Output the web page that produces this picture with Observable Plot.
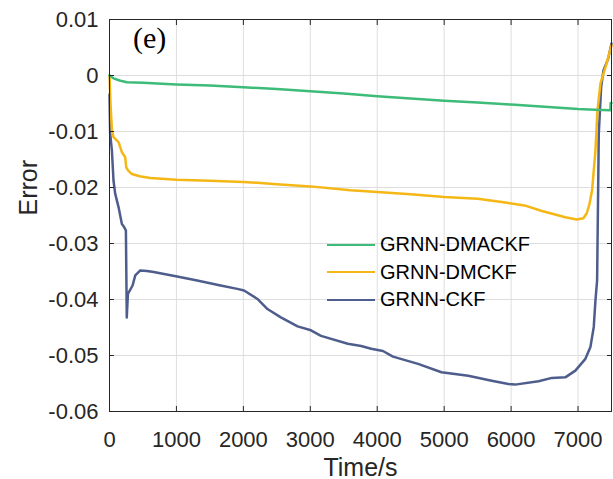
<!DOCTYPE html>
<html>
<head>
<meta charset="utf-8">
<script src="https://cdn.jsdelivr.net/npm/d3@7"></script>
<script src="https://cdn.jsdelivr.net/npm/@observablehq/plot@0.6"></script>
<style>
  html, body { margin: 0; padding: 0; background: #fff; }
  #wrap { position: relative; width: 613px; height: 479px; font-family: "Liberation Sans", Arial, sans-serif; }
  #tag { position: absolute; left: 133px; top: 23px; font-family: "Liberation Serif", "Times New Roman", serif; font-size: 30px; color: #000; line-height: 1; }
  #legend { position: absolute; left: 327px; top: 231px; font-size: 20px; color: #000; }
  .row { display: flex; align-items: center; height: 27.5px; }
  .sw { width: 48px; height: 0; border-top: 2.5px solid; margin-right: 5px; }
</style>
</head>
<body>
<div id="wrap"><div id="tag">(e)</div><div id="legend"></div></div>
<script>
const seriesNames = ["GRNN-DMACKF", "GRNN-DMCKF", "GRNN-CKF"];
const seriesColors = ["#3dbb78", "#f5b715", "#4f5d8c"];

const xTicks = [0, 1000, 2000, 3000, 4000, 5000, 6000, 7000];
const yTicks = [0.01, 0, -0.01, -0.02, -0.03, -0.04, -0.05, -0.06];

const dmackfT = [0, 60, 150, 260, 500, 1000, 1500, 2000, 2500, 3000, 3500, 4000, 4500, 5000, 5500, 6000, 6500, 7000, 7250, 7484, 7487, 7500];
const dmackfV = [0, -0.0005, -0.0009, -0.0012, -0.0013, -0.0016, -0.0018, -0.0021, -0.0024, -0.0028, -0.0032, -0.0037, -0.0041, -0.0045, -0.0048, -0.0052, -0.0056, -0.0060, -0.0061, -0.0062, -0.0049, -0.0049];

const dmckfT = [0, 15, 36, 60, 135, 185, 235, 250, 280, 335, 450, 610, 1000, 1500, 2000, 2500, 3000, 3600, 4000, 4500, 5000, 5500, 5860, 6200, 6460, 6810, 6980, 7080, 7130, 7170, 7210, 7260, 7290, 7335, 7410, 7480, 7500];
const dmckfV = [0, -0.005, -0.0098, -0.0110, -0.0119, -0.0137, -0.0146, -0.0164, -0.0170, -0.0176, -0.0180, -0.0183, -0.0186, -0.0188, -0.0190, -0.0194, -0.0198, -0.0205, -0.0208, -0.0212, -0.0217, -0.0220, -0.0226, -0.0232, -0.0242, -0.0253, -0.0257, -0.0255, -0.0246, -0.0230, -0.0205, -0.0134, -0.0063, -0.0014, 0.0015, 0.0045, 0.0054];

const ckfT = [0, 10, 36, 60, 85, 135, 185, 220, 245, 258, 275, 345, 385, 460, 560, 660, 1010, 1310, 1660, 1910, 2010, 2210, 2360, 2560, 2810, 3010, 3160, 3560, 3760, 3910, 4085, 4235, 4610, 4960, 5360, 5710, 5960, 6060, 6410, 6610, 6810, 6960, 7110, 7185, 7235, 7260, 7285, 7310, 7345, 7380, 7450, 7500];
const ckfV = [-0.0034, -0.0104, -0.0134, -0.0188, -0.0211, -0.0235, -0.0265, -0.0271, -0.0277, -0.0432, -0.0390, -0.0375, -0.0357, -0.0348, -0.0349, -0.0351, -0.0359, -0.0366, -0.0375, -0.0381, -0.0384, -0.0399, -0.0417, -0.0432, -0.0448, -0.0455, -0.0465, -0.0479, -0.0483, -0.0488, -0.0492, -0.0502, -0.0515, -0.0530, -0.0536, -0.0545, -0.0551, -0.0552, -0.0546, -0.0540, -0.0539, -0.0527, -0.0506, -0.0485, -0.0449, -0.0402, -0.0366, -0.0104, -0.0021, 0.0009, 0.0030, 0.0057];

const toRows = (T, V, s) => T.map((t, i) => ({t, v: V[i], s}));
const data = [
  ...toRows(dmackfT, dmackfV, seriesNames[0]),
  ...toRows(dmckfT, dmckfV, seriesNames[1]),
  ...toRows(ckfT, ckfV, seriesNames[2])
];

const axisColor = "#262626";
const gridColor = "#dedede";
const fmtY = d => d === 0 ? "0" : d.toFixed(2);
const fmtX = d => String(d);

const chart = Plot.plot({
  width: 613,
  height: 479,
  marginLeft: 109,
  marginRight: 2,
  marginTop: 19,
  marginBottom: 68,
  style: {fontFamily: "'Liberation Sans', Arial, sans-serif", fontSize: "22px", color: axisColor, background: "transparent"},
  x: {domain: [0, 7500]},
  y: {domain: [-0.06, 0.01]},
  color: {domain: seriesNames, range: seriesColors},
  marks: [
    Plot.gridX(xTicks, {stroke: gridColor, strokeOpacity: 1, strokeWidth: 1}),
    Plot.gridY(yTicks, {stroke: gridColor, strokeOpacity: 1, strokeWidth: 1}),
    ...seriesNames.slice().reverse().map(name =>
      Plot.line(data.filter(d => d.s === name), {x: "t", y: "v", stroke: "s", strokeWidth: 2.5, curve: "linear"})
    ),
    Plot.frame({stroke: axisColor, strokeWidth: 1}),
    Plot.axisX(xTicks, {anchor: "bottom", tickSize: -5, tickPadding: 25, tickFormat: fmtX, label: null, stroke: axisColor, fill: axisColor}),
    Plot.axisX(xTicks, {anchor: "top", tickSize: -5, tickFormat: () => "", label: null, stroke: axisColor}),
    Plot.axisY(yTicks, {anchor: "left", tickSize: -5, tickPadding: 16, tickFormat: fmtY, label: null, stroke: axisColor, fill: axisColor}),
    Plot.axisY(yTicks, {anchor: "right", tickSize: -5, tickFormat: () => "", label: null, stroke: axisColor}),
    Plot.text(["Time/s"], {frameAnchor: "bottom", lineAnchor: "middle", dy: 56, fontSize: 25, fill: axisColor}),
    Plot.text(["Error"], {frameAnchor: "left", lineAnchor: "middle", dx: -81, rotate: -90, fontSize: 25, fill: axisColor})
  ]
});

const wrap = document.getElementById("wrap");
chart.style.position = "absolute";
chart.style.left = "0";
chart.style.top = "0";
wrap.insertBefore(chart, wrap.firstChild);

const legend = document.getElementById("legend");
seriesNames.forEach((name, i) => {
  const row = document.createElement("div");
  row.className = "row";
  const sw = document.createElement("div");
  sw.className = "sw";
  sw.style.borderTopColor = seriesColors[i];
  const label = document.createElement("span");
  label.textContent = name;
  row.appendChild(sw);
  row.appendChild(label);
  legend.appendChild(row);
});
</script>
</body>
</html>
